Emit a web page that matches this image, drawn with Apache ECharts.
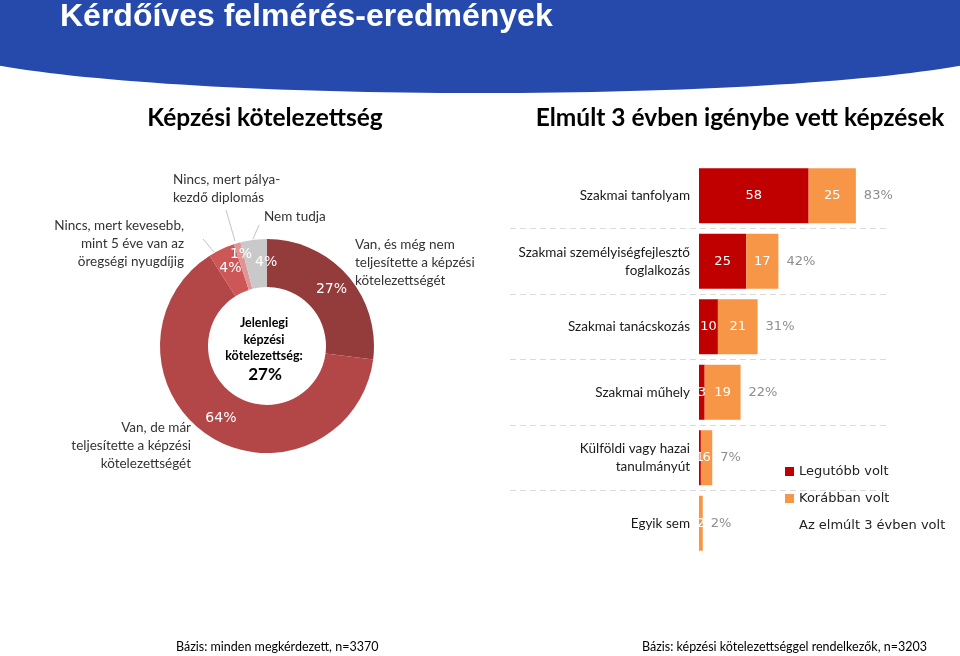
<!DOCTYPE html>
<html>
<head>
<meta charset="utf-8">
<script src="https://cdn.jsdelivr.net/npm/echarts@6/dist/echarts.min.js"></script>
<style>
  html, body { margin: 0; padding: 0; background: #ffffff; }
  #chart { width: 960px; height: 656px; }
</style>
</head>
<body>
<div id="chart"></div>
<script>
// ---------- data ----------
const mainTitle = 'Kérdőíves felmérés-eredmények';
const pieTitle = 'Képzési kötelezettség';
const barTitle = 'Elmúlt 3 évben igénybe vett képzések';

const pieCategories = [
  'Van, és még nem teljesítette a képzési kötelezettségét',
  'Van, de már teljesítette a képzési kötelezettségét',
  'Nincs, mert kevesebb, mint 5 éve van az öregségi nyugdíjig',
  'Nincs, mert pályakezdő diplomás',
  'Nem tudja'
];
const pieLabelTexts = [
  'Van, és még nem\nteljesítette a képzési\nkötelezettségét',
  'Van, de már\nteljesítette a képzési\nkötelezettségét',
  'Nincs, mert kevesebb,\nmint 5 éve van az\nöregségi nyugdíjig',
  'Nincs, mert pálya-\nkezdő diplomás',
  'Nem tudja'
];
const pieValues = [27, 64, 4, 1, 4];
const pieCenterLines = ['Jelenlegi', 'képzési', 'kötelezettség:'];
const pieCenterValue = '27%';

const barCategories = [
  'Szakmai tanfolyam',
  'Szakmai személyiségfejlesztő\nfoglalkozás',
  'Szakmai tanácskozás',
  'Szakmai műhely',
  'Külföldi vagy hazai\ntanulmányút',
  'Egyik sem'
];
const seriesNames = ['Legutóbb volt', 'Korábban volt', 'Az elmúlt 3 évben volt'];
const recentValues = [58, 25, 10, 3, 1, 0];
const earlierValues = [25, 17, 21, 19, 6, 2];
const totalValues = [83, 42, 31, 22, 7, 2];

const footnotes = [
  'Bázis: minden megkérdezett, n=3370',
  'Bázis: képzési kötelezettséggel rendelkezők, n=3203'
];

// ---------- styles / layout ----------
const pieColors = ['#943c3b', '#b34646', '#cd5656', '#e09494', '#c9c9c9'];
const pieCenter = [267, 346];
const pieRadius = [59, 107];
// inside label nudges
const pieInsideNudge = [[0, 0], [0, 0], [0, 0], [-2, -9], [10, 2]];
// outer label layout: [x, y(top), align, linePoints or null]
const pieOuterLayout = [
  [355, 236, 'left', null],
  [191, 419, 'right', null],
  [184, 217, 'right', [[203, 239], [214, 252]]],
  [173, 171, 'left', [[226, 210], [235, 241]]],
  [264, 208, 'left', [[259, 225], [253, 239]]]
];

const calibri = 'Lato, "Open Sans", sans-serif';
const verdana = '"DejaVu Sans", Verdana, sans-serif';

const chart = echarts.init(document.getElementById('chart'), null, { renderer: 'canvas' });

const option = {
  backgroundColor: '#ffffff',
  animation: false,
  graphic: [
    { type: 'rect', shape: { x: 0, y: 0, width: 960, height: 44 }, style: { fill: '#264aab' }, silent: true },
    { type: 'ellipse', shape: { cx: 480, cy: 41, rx: 545, ry: 52 }, style: { fill: '#264aab' }, silent: true },
    { type: 'text', x: 60, y: 17, style: { text: mainTitle, fill: '#ffffff', font: 'bold 32px "Liberation Sans", Arial, sans-serif', align: 'left', verticalAlign: 'middle' }, silent: true },
    { type: 'text', x: 265, y: 118, style: { text: pieTitle, fill: '#000000', font: 'bold 24.5px ' + calibri, align: 'center', verticalAlign: 'middle' }, silent: true },
    { type: 'text', x: 740, y: 118, style: { text: barTitle, fill: '#000000', font: 'bold 24.5px ' + calibri, align: 'center', verticalAlign: 'middle' }, silent: true },
    { type: 'text', x: 264, y: 315, style: { text: pieCenterLines.join('\n'), fill: '#000000', font: 'bold 12.5px ' + calibri, lineHeight: 16.5, align: 'center', verticalAlign: 'top' }, silent: true },
    { type: 'text', x: 265, y: 375, style: { text: pieCenterValue, fill: '#000000', font: 'bold 17px ' + calibri, align: 'center', verticalAlign: 'middle' }, silent: true },
    { type: 'text', x: 176, y: 647, style: { text: footnotes[0], fill: '#000000', font: '12.5px ' + calibri, align: 'left', verticalAlign: 'middle' }, silent: true },
    { type: 'text', x: 642, y: 647, style: { text: footnotes[1], fill: '#000000', font: '12.5px ' + calibri, align: 'left', verticalAlign: 'middle' }, silent: true }
  ],
  legend: {
    orient: 'vertical',
    left: 780,
    top: 459,
    itemWidth: 9,
    itemHeight: 9,
    itemGap: 12,
    icon: 'rect',
    data: seriesNames,
    textStyle: { color: '#222222', fontFamily: verdana, fontSize: 13, lineHeight: 15 },
    selectedMode: false
  },
  grid: { left: 510, right: 72, top: 163, bottom: 100, containLabel: false },
  xAxis: {
    type: 'value', min: -100, max: 100, show: false,
    splitLine: { show: false }
  },
  yAxis: {
    type: 'category',
    inverse: true,
    data: barCategories,
    axisLine: { show: false },
    axisTick: { show: false },
    axisLabel: {
      margin: -180, align: 'right', color: '#1a1a1a',
      fontFamily: calibri, fontSize: 13.5, lineHeight: 18
    },
    splitLine: {
      show: true, showMinLine: false, showMaxLine: false,
      lineStyle: { color: '#dadada', type: [6, 4], width: 1 }
    }
  },
  series: [
    {
      type: 'pie',
      name: 'kotelezettseg',
      center: pieCenter,
      radius: pieRadius,
      startAngle: 90,
      clockwise: true,
      avoidLabelOverlap: false,
      silent: true,
      data: pieValues.map((v, i) => ({ name: pieCategories[i], value: v, itemStyle: { color: pieColors[i] } })),
      label: {
        show: true, position: 'inside', formatter: '{c}%',
        color: '#ffffff', fontFamily: verdana, fontSize: 14
      },
      labelLine: { show: false },
      labelLayout: function (p) {
        const n = pieInsideNudge[p.dataIndex];
        return { dx: n[0], dy: n[1] };
      }
    },
    {
      type: 'pie',
      name: 'kotelezettseg-cimkek',
      center: pieCenter,
      radius: pieRadius,
      startAngle: 90,
      clockwise: true,
      avoidLabelOverlap: false,
      silent: true,
      data: pieValues.map((v, i) => ({
        name: pieLabelTexts[i], value: v,
        itemStyle: { color: 'rgba(0,0,0,0)' },
        labelLine: { show: pieOuterLayout[i][3] !== null }
      })),
      label: {
        show: true, position: 'outside', formatter: '{b}',
        color: '#333333', fontFamily: calibri, fontSize: 13.5, lineHeight: 18
      },
      labelLine: { show: true, lineStyle: { color: '#c4c4c4', width: 1 } },
      labelLayout: function (p) {
        const L = pieOuterLayout[p.dataIndex];
        const res = { x: L[0], y: L[1], align: L[2], verticalAlign: 'top' };
        if (L[3]) res.labelLinePoints = [L[3][0], L[3][1], L[3][1]];
        return res;
      }
    },
    {
      type: 'bar',
      name: seriesNames[0],
      stack: 'tot',
      barWidth: '84%',
      data: recentValues,
      itemStyle: { color: '#c00000' },
      label: {
        show: true, position: 'inside', color: '#ffffff',
        fontFamily: verdana, fontSize: 13,
        formatter: p => (p.value > 0 ? String(p.value) : '')
      },
      silent: true
    },
    {
      type: 'bar',
      name: seriesNames[1],
      stack: 'tot',
      barWidth: '84%',
      data: earlierValues,
      itemStyle: { color: '#f79646' },
      label: {
        show: true, position: 'inside', color: '#ffffff',
        fontFamily: verdana, fontSize: 13,
        formatter: p => (p.value > 0 ? String(p.value) : '')
      },
      silent: true
    },
    {
      type: 'bar',
      name: seriesNames[2],
      barWidth: '84%',
      barGap: '-100%',
      data: totalValues,
      itemStyle: { color: 'rgba(0,0,0,0)' },
      label: {
        show: true, position: 'right', distance: 8, color: '#8e8e8e',
        fontFamily: verdana, fontSize: 13,
        formatter: '{c}%'
      },
      silent: true
    }
  ]
};
chart.setOption(option);
</script>
</body>
</html>
